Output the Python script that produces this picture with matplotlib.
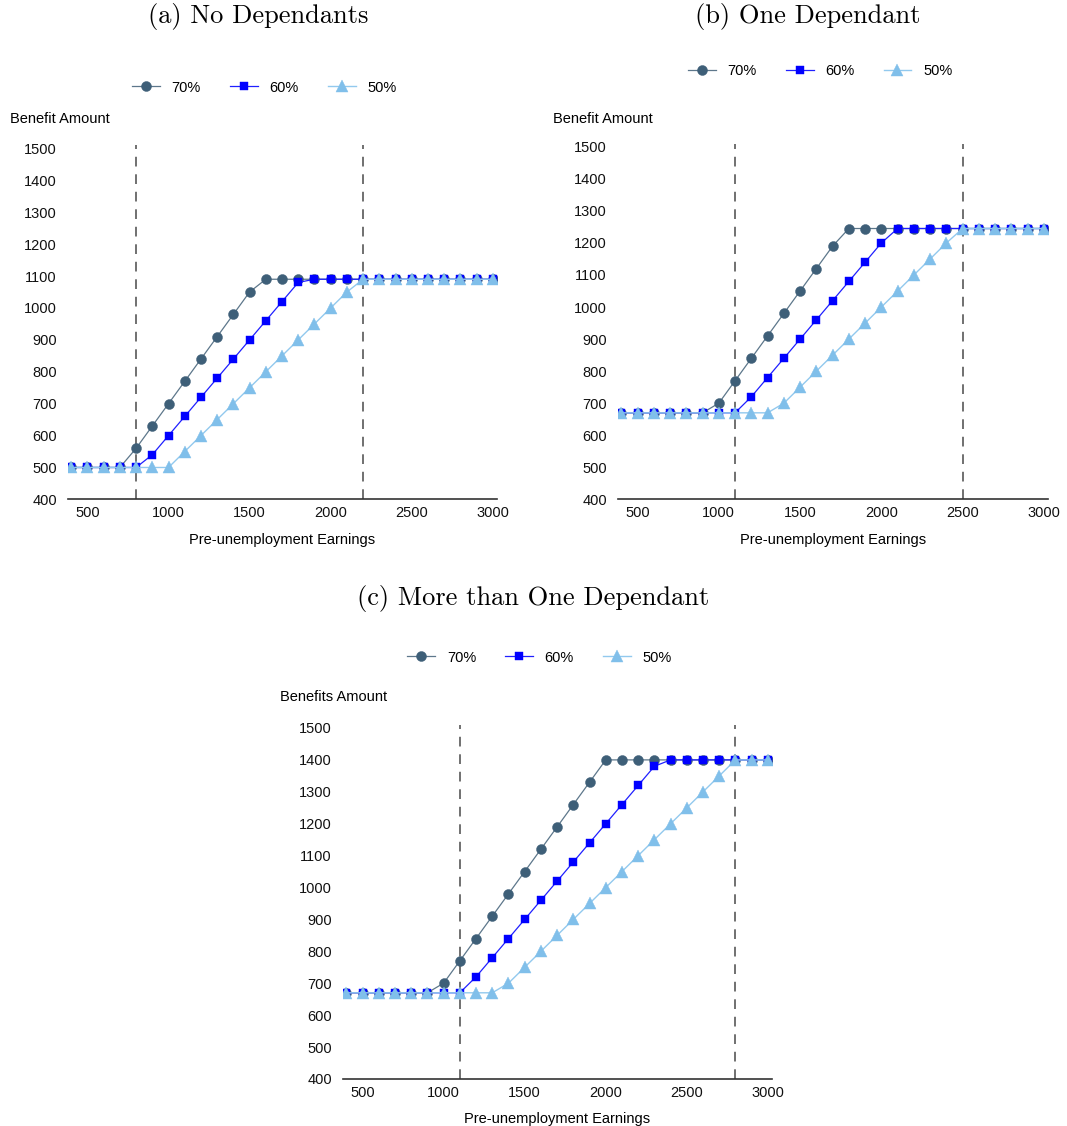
import matplotlib.pyplot as plt

plt.rcParams['font.family'] = ['Liberation Sans', 'DejaVu Sans']

earnings = [400, 500, 600, 700, 800, 900, 1000, 1100, 1200, 1300, 1400, 1500, 1600, 1700,
            1800, 1900, 2000, 2100, 2200, 2300, 2400, 2500, 2600, 2700, 2800, 2900, 3000]

# (a) no dependants
a_70 = [500, 500, 500, 500, 560, 630, 700, 770, 840, 910, 980, 1050,
        1090, 1090, 1090, 1090, 1090, 1090, 1090, 1090, 1090, 1090, 1090, 1090, 1090, 1090, 1090]
a_60 = [500, 500, 500, 500, 500, 540, 600, 660, 720, 780, 840, 900, 960, 1020, 1080,
        1090, 1090, 1090, 1090, 1090, 1090, 1090, 1090, 1090, 1090, 1090, 1090]
a_50 = [500, 500, 500, 500, 500, 500, 500, 550, 600, 650, 700, 750, 800, 850, 900, 950, 1000, 1050,
        1090, 1090, 1090, 1090, 1090, 1090, 1090, 1090, 1090]
a_cutoffs = [800, 2200]

# (b) one dependant
b_70 = [670, 670, 670, 670, 670, 670, 700, 770, 840, 910, 980, 1050, 1120, 1190,
        1245, 1245, 1245, 1245, 1245, 1245, 1245, 1245, 1245, 1245, 1245, 1245, 1245]
b_60 = [670, 670, 670, 670, 670, 670, 670, 670, 720, 780, 840, 900, 960, 1020, 1080, 1140, 1200,
        1245, 1245, 1245, 1245, 1245, 1245, 1245, 1245, 1245, 1245]
b_50 = [670, 670, 670, 670, 670, 670, 670, 670, 670, 670, 700, 750, 800, 850, 900, 950, 1000,
        1050, 1100, 1150, 1200, 1245, 1245, 1245, 1245, 1245, 1245]
b_cutoffs = [1100, 2500]

# (c) more than one dependant
c_70 = [670, 670, 670, 670, 670, 670, 700, 770, 840, 910, 980, 1050, 1120, 1190, 1260, 1330,
        1400, 1400, 1400, 1400, 1400, 1400, 1400, 1400, 1400, 1400, 1400]
c_60 = [670, 670, 670, 670, 670, 670, 670, 670, 720, 780, 840, 900, 960, 1020, 1080, 1140, 1200,
        1260, 1320, 1380, 1400, 1400, 1400, 1400, 1400, 1400, 1400]
c_50 = [670, 670, 670, 670, 670, 670, 670, 670, 670, 670, 700, 750, 800, 850, 900, 950, 1000,
        1050, 1100, 1150, 1200, 1250, 1300, 1350, 1400, 1400, 1400]
c_cutoffs = [1100, 2800]

rate_labels = ['70%', '60%', '50%']
xticks = [500, 1000, 1500, 2000, 2500, 3000]
yticks = [400, 500, 600, 700, 800, 900, 1000, 1100, 1200, 1300, 1400, 1500]

styles = [
    dict(color='#3e5f78', line='#5d778b', marker='o', markersize=7.2, linewidth=0.9),
    dict(color='#0000ff', line='#2020ff', marker='s', markersize=5.8, linewidth=0.9),
    dict(color='#80bfea', line='#92c9ee', marker='^', markersize=8.8, linewidth=1.0),
]

fig = plt.figure(figsize=(10.67, 11.26), dpi=100)

# axes rect, series, cutoff lines, title, title pixel pos, y label, y label pos, legend anchor
panels = [
    ([0.0637, 0.5565, 0.402, 0.3145], [a_70, a_60, a_50], a_cutoffs,
     '(a) No Dependants', (258, 17), 'Benefit Amount', (-0.135, 1.073), (0.458, 1.163)),
    ([0.5792, 0.5565, 0.403, 0.316], [b_70, b_60, b_50], b_cutoffs,
     '(b) One Dependant', (808, 17), 'Benefit Amount', (-0.151, 1.07), (0.47, 1.204)),
    ([0.3215, 0.0418, 0.402, 0.3145], [c_70, c_60, c_50], c_cutoffs,
     '(c) More than One Dependant', (533, 599), 'Benefits Amount', (-0.147, 1.079), (0.458, 1.19)),
]

W, H = 1067, 1126
for rect, series, cutoffs, title, tpos, ylab, ylpos, leg_pos in panels:
    ax = fig.add_axes(rect)
    for cut in cutoffs:
        ax.axvline(cut, color='#707070', linestyle=(0, (5, 4)), linewidth=1.4, zorder=1)
    for vals, lab, st in zip(series, rate_labels, styles):
        ax.plot(earnings, vals, label=lab, color=st['line'], linewidth=st['linewidth'],
                marker=st['marker'], markersize=st['markersize'], markerfacecolor=st['color'],
                markeredgecolor=st['color'], markeredgewidth=0.3, zorder=3)
    ax.set_xlim(380, 3025)
    ax.set_ylim(400, 1510)
    ax.set_xticks(xticks)
    ax.set_yticks(yticks)
    ax.tick_params(axis='both', length=0, labelsize=10.5, colors='#111111')
    ax.tick_params(axis='y', pad=8)
    ax.tick_params(axis='x', pad=5)
    for side in ['top', 'right', 'left']:
        ax.spines[side].set_visible(False)
    ax.spines['bottom'].set_color('#333333')
    ax.spines['bottom'].set_linewidth(1.2)
    ax.set_xlabel('Pre-unemployment Earnings', fontsize=10.5, labelpad=9)
    ax.text(ylpos[0], ylpos[1], ylab, transform=ax.transAxes, ha='left', va='center', fontsize=10.5)
    ax.legend(loc='center', bbox_to_anchor=leg_pos, ncol=3, frameon=False, fontsize=10.5,
              handlelength=1.9, columnspacing=2.0, handletextpad=0.8)
    fig.text(tpos[0] / W, 1 - tpos[1] / H, title, ha='center', va='center',
             fontsize=19, family='cmr10')

fig.savefig('out.png', dpi=100)
